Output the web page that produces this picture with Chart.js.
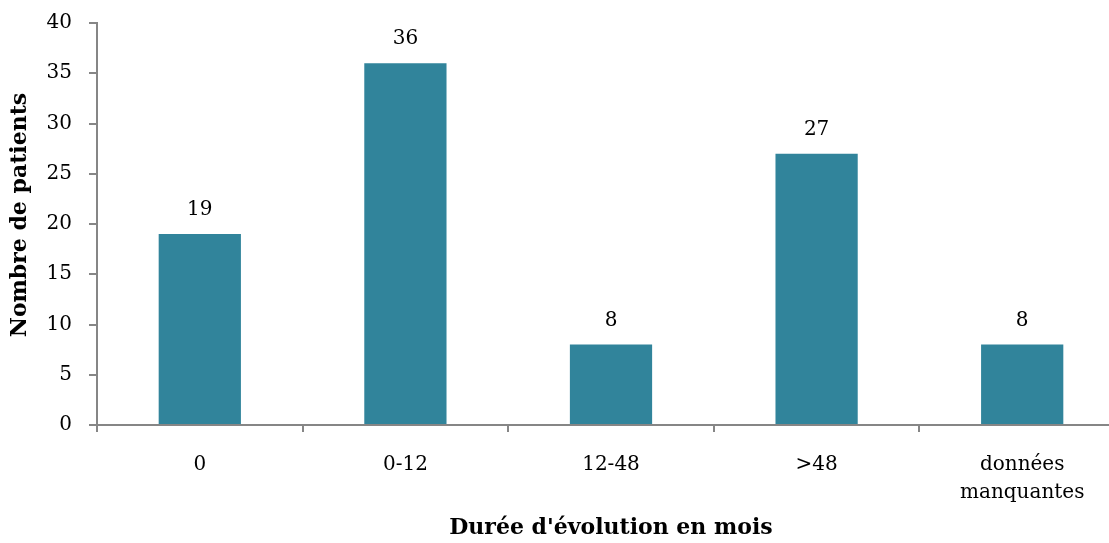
<!DOCTYPE html>
<html><head><meta charset="utf-8">
<script src="https://cdn.jsdelivr.net/npm/chart.js@4/dist/chart.umd.min.js"></script>
<style>html,body{margin:0;padding:0;overflow:hidden;background:#fff}#wrap{width:1125px;height:543px;position:relative}</style>
</head><body><div id="wrap"><canvas id="c" width="1125" height="543"></canvas></div>
<script>
const categories = ["0", "0-12", "12-48", ">48", ["données", "manquantes"]];
const patients = [19, 36, 8, 27, 8];
const yTicks = [0, 5, 10, 15, 20, 25, 30, 35, 40];
const yTitle = 'Nombre de patients';
const xTitle = "Durée d'évolution en mois";
const FONT = "'DejaVu Serif', serif";
const GREY = '#868686';
const labelPlugin = {
  id: 'barLabels',
  afterDatasetsDraw(chart) {
    const ctx = chart.ctx;
    const meta = chart.getDatasetMeta(0);
    ctx.save();
    ctx.font = "20px " + FONT;
    ctx.fillStyle = '#000';
    ctx.textAlign = 'center';
    ctx.textBaseline = 'middle';
    meta.data.forEach((el, i) => {
      ctx.fillText(String(patients[i]), el.x, el.y - 24);
    });
    // y-axis title
    ctx.font = "bold 22px " + FONT;
    ctx.translate(20, 215);
    ctx.rotate(-Math.PI / 2);
    ctx.fillText(yTitle, 0, 0);
    ctx.restore();
  }
};
new Chart(document.getElementById('c'), {
  type: 'bar',
  data: { labels: categories, datasets: [{ data: patients, backgroundColor: '#31849B', borderWidth: 0, categoryPercentage: 1, barPercentage: 0.4 }] },
  options: {
    responsive: false, animation: false,
    layout: { padding: { top: 23, right: 0, left: 0, bottom: 0 } },
    plugins: { legend: { display: false }, tooltip: { enabled: false } },
    scales: {
      x: {
        grid: { display: true, drawOnChartArea: false, offset: true, tickLength: 7, color: GREY, lineWidth: 2 },
        border: { color: GREY, width: 2 },
        ticks: { color: '#000', font: { family: FONT, size: 20, lineHeight: 1.38 }, padding: 19, maxRotation: 0 },
        title: { display: true, text: xTitle, color: '#000', font: { family: FONT, size: 22, weight: 'bold' }, padding: { top: 0, bottom: 2 } },
        afterFit(s) { s.height = 118; s.paddingLeft = 0; s.paddingRight = 0; }
      },
      y: {
        min: 0, max: 40,
        afterBuildTicks(s) { s.ticks = yTicks.map(v => ({ value: v })); },
        grid: { display: true, drawOnChartArea: false, tickLength: 8, color: GREY, lineWidth: 2 },
        border: { color: GREY, width: 2 },
        ticks: { color: '#000', font: { family: FONT, size: 20 }, padding: 17 },
        afterFit(s) { s.width = 97; s.paddingTop = 0; s.paddingBottom = 0; }
      }
    }
  },
  plugins: [labelPlugin]
});
</script></body></html>
